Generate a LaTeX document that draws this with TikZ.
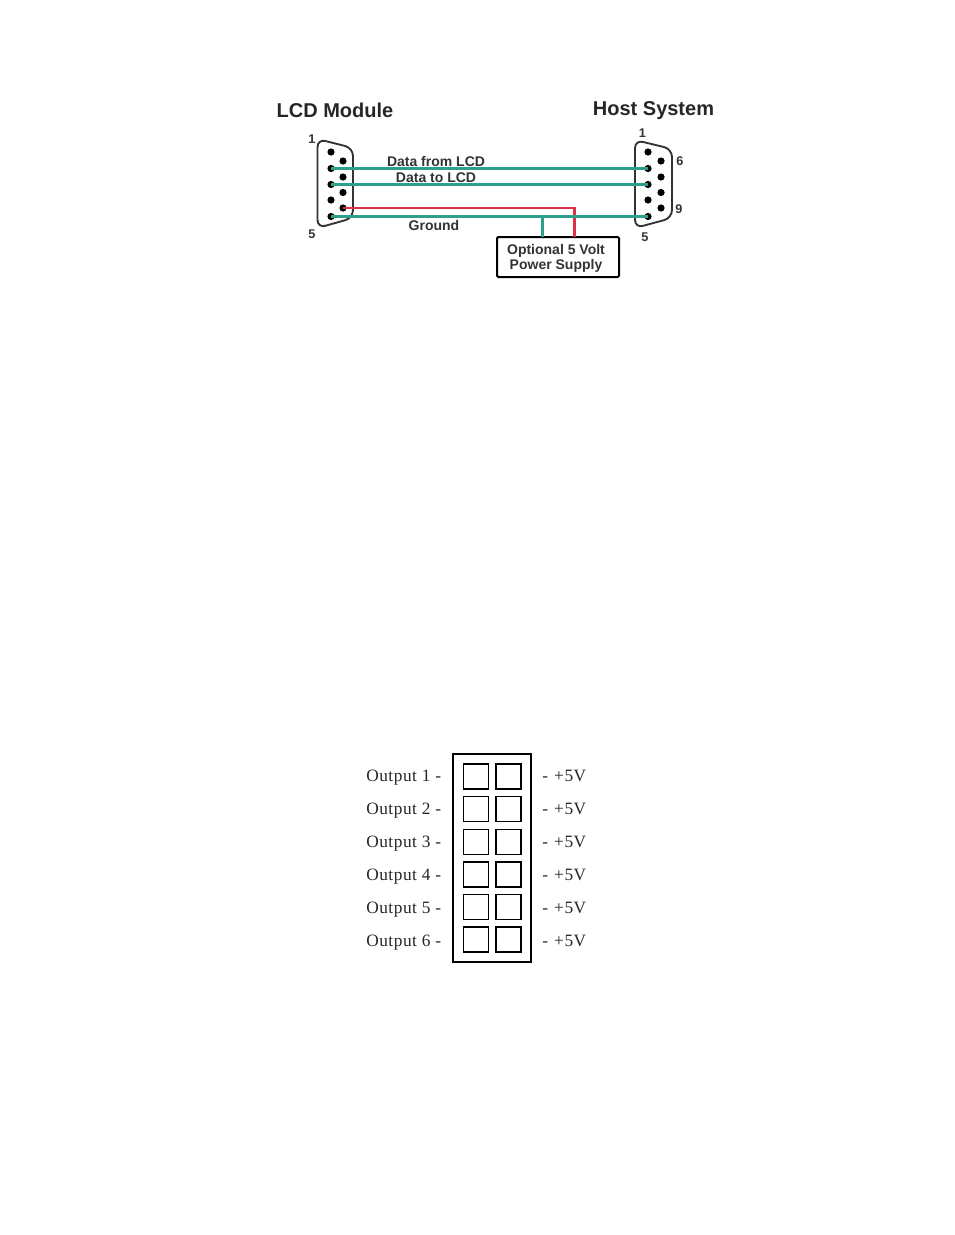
\documentclass[tikz,border=0pt]{standalone}
\usepackage{fontspec}
\setsansfont{Liberation Sans}
\newfontfamily\outputfont[LetterSpace=3]{Liberation Serif}
\definecolor{wireteal}{RGB}{45,160,140}
\definecolor{wirered}{RGB}{220,50,72}

\begin{document}
\begin{tikzpicture}[x=0.75pt,y=-0.75pt]

  \useasboundingbox (0,0) rectangle (954,1235);

  % node styles
  \tikzstyle{Title}=[font=\sffamily\bfseries\fontsize{15}{17}\selectfont,text=black!85,inner sep=0]
  \tikzstyle{Label}=[font=\sffamily\bfseries\fontsize{10.5}{11.2}\selectfont,text=black!80,inner sep=0,align=center]
  \tikzstyle{Number}=[font=\sffamily\bfseries\fontsize{9.5}{11}\selectfont,text=black!80,inner sep=0]
  \tikzstyle{Pin}=[shape=circle,fill=black,inner sep=0,minimum size=5.4pt]
  \tikzstyle{Shell}=[line width=1.4pt,rounded corners=6pt,black!80]
  \tikzstyle{Teal}=[line width=1.6pt,wireteal]
  \tikzstyle{Red}=[line width=1.6pt,wirered]
  \tikzstyle{Supply}=[shape=rectangle,draw,line width=1.5pt,rounded corners=1pt,
  minimum width=91.5pt,minimum height=30pt,inner sep=0]
  \tikzstyle{Output}=[font=\outputfont\fontsize{13}{15}\selectfont,text=black!85,inner sep=0]
  \tikzstyle{Header}=[shape=rectangle,draw,line width=0.8pt,inner sep=0,minimum width=58.5pt,minimum height=156pt]
  \tikzstyle{Socket}=[shape=rectangle,draw,line width=1pt,inner sep=0,minimum size=18.6pt]

  % titles
  \node[Title] (LCD)  at (335,110) {LCD Module};
  \node[Title] (Host) at (653.5,110.5) {Host System};

  % left connector
  \draw[Shell] (317.5,139) -- (353,148) -- (353,218) -- (317.5,228) -- cycle;
  \node[Pin] (L1) at (331,152) {};
  \node[Pin] (L2) at (331,168.5) {};
  \node[Pin] (L3) at (331,184.5) {};
  \node[Pin] (L4) at (331,200) {};
  \node[Pin] (L5) at (331,216.5) {};
  \node[Pin] (L6) at (343,161) {};
  \node[Pin] (L7) at (343,177) {};
  \node[Pin] (L8) at (343,192.5) {};
  \node[Pin] (L9) at (343,208) {};
  \node[Number] (L1n) at (312,139) {1};
  \node[Number] (L5n) at (312,234) {5};

  % right connector
  \draw[Shell] (635,140) -- (672,149) -- (672,218) -- (635,228) -- cycle;
  \node[Pin] (R1) at (648,152) {};
  \node[Pin] (R2) at (648,168.5) {};
  \node[Pin] (R3) at (648,184.5) {};
  \node[Pin] (R4) at (648,200) {};
  \node[Pin] (R5) at (648,216.5) {};
  \node[Pin] (R6) at (661,161) {};
  \node[Pin] (R7) at (661,177) {};
  \node[Pin] (R8) at (661,192.5) {};
  \node[Pin] (R9) at (661,208) {};
  \node[Number] (R1n) at (642.5,133) {1};
  \node[Number] (R5n) at (645,237) {5};
  \node[Number] (R6n) at (680,161) {6};
  \node[Number] (R9n) at (679,209.5) {9};

  % power supply
  \node[Supply] (PS) at (558,257) {};
  \node[Label] (PSt) at (556,258) {Optional 5 Volt\\Power Supply};
  \coordinate (Tap)  at (542.5,216.5);
  \coordinate (TapB) at (542.5,237);
  \coordinate (RedB) at (574.5,237);

  % wires
  \draw[Teal] (L2.center) -- (R2.center);
  \draw[Teal] (L3.center) -- (R3.center);
  \draw[Red]  (L9.center) -| (RedB);
  \draw[Teal] (L5.center) -- (R5.center);
  \draw[Teal] (Tap) -- (TapB);

  % wire labels
  \node[Label] (DF) at (436,161.5) {Data from LCD};
  \node[Label] (DT) at (436,177.5) {Data to LCD};
  \node[Label] (GN) at (434,225) {Ground};

  % output header
  \node[Header] (H) at (492,858) {};

  \node[Socket] (A1) at (476,776.5) {};
  \node[Socket] (A2) at (476,809) {};
  \node[Socket] (A3) at (476,842) {};
  \node[Socket] (A4) at (476,874.5) {};
  \node[Socket] (A5) at (476,907) {};
  \node[Socket] (A6) at (476,939.5) {};

  \node[Socket] (B1) at (508.5,776.5) {};
  \node[Socket] (B2) at (508.5,809) {};
  \node[Socket] (B3) at (508.5,842) {};
  \node[Socket] (B4) at (508.5,874.5) {};
  \node[Socket] (B5) at (508.5,907) {};
  \node[Socket] (B6) at (508.5,939.5) {};

  \node[Output,anchor=west] (O1) at (366,778) {Output 1 -};
  \node[Output,anchor=west] (O2) at (366,811) {Output 2 -};
  \node[Output,anchor=west] (O3) at (366,844) {Output 3 -};
  \node[Output,anchor=west] (O4) at (366,877) {Output 4 -};
  \node[Output,anchor=west] (O5) at (366,910) {Output 5 -};
  \node[Output,anchor=west] (O6) at (366,943) {Output 6 -};

  \node[Output,anchor=west] (V1) at (542,776) {-\hspace{1pt} +5V};
  \node[Output,anchor=west] (V2) at (542,809) {-\hspace{1pt} +5V};
  \node[Output,anchor=west] (V3) at (542,842) {-\hspace{1pt} +5V};
  \node[Output,anchor=west] (V4) at (542,875) {-\hspace{1pt} +5V};
  \node[Output,anchor=west] (V5) at (542,908) {-\hspace{1pt} +5V};
  \node[Output,anchor=west] (V6) at (542,941) {-\hspace{1pt} +5V};

\end{tikzpicture}
\end{document}
